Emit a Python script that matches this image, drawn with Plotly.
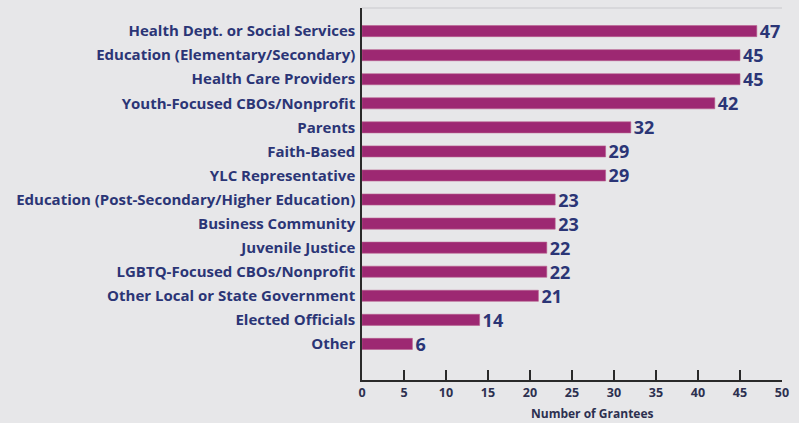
import plotly.graph_objects as go

categories = [
    "Health Dept. or Social Services",
    "Education (Elementary/Secondary)",
    "Health Care Providers",
    "Youth-Focused CBOs/Nonprofit",
    "Parents",
    "Faith-Based",
    "YLC Representative",
    "Education (Post-Secondary/Higher Education)",
    "Business Community",
    "Juvenile Justice",
    "LGBTQ-Focused CBOs/Nonprofit",
    "Other Local or State Government",
    "Elected Officials",
    "Other",
]
values = [47, 45, 45, 42, 32, 29, 29, 23, 23, 22, 22, 21, 14, 6]
x_ticks = [0, 5, 10, 15, 20, 25, 30, 35, 40, 45, 50]

BG = "#e7e7e9"
BAR = "#9d2872"
NAVY = "#2b3576"
FONT = "Open Sans"

fig = go.Figure()
fig.add_trace(go.Bar(
    x=values,
    y=categories,
    orientation="h",
    marker=dict(color=BAR, line=dict(color="#b8608f", width=0.6)),
    width=0.46,
    text=[str(v) for v in values],
    textposition="outside",
    constraintext="none",
    cliponaxis=False,
    textfont=dict(family=FONT, size=18, color=NAVY, weight="bold"),
    hoverinfo="skip",
))

fig.update_layout(
    width=799, height=423,
    margin=dict(l=362, r=17, t=8, b=43),
    paper_bgcolor=BG, plot_bgcolor=BG,
    showlegend=False,
    font=dict(family=FONT),
    xaxis=dict(
        range=[0, 50], tickvals=x_ticks, ticktext=[str(t) for t in x_ticks],
        showgrid=False, zeroline=False,
        showline=True, linecolor="#2a2a2a", linewidth=2,
        ticks="inside", ticklen=10, tickwidth=1.5, tickcolor="#2a2a2a",
        tickfont=dict(family=FONT, size=12.5, color="#2d3050", weight="bold"),
        fixedrange=True,
    ),
    yaxis=dict(
        type="category", categoryorder="array", categoryarray=categories,
        range=[14.5, -0.96],
        showgrid=False, zeroline=False,
        showline=True, linecolor="#2a2a2a", linewidth=1.5,
        ticks="", ticklabelstandoff=2,
        tickfont=dict(family=FONT, size=15, color=NAVY, weight="bold"),
        fixedrange=True,
    ),
    shapes=[dict(type="line", xref="paper", yref="paper", x0=0, x1=1, y0=1, y1=1,
                 line=dict(color="#d3d3d6", width=1.5))],
    annotations=[dict(text="Number of Grantees", xref="paper", yref="paper",
                      x=0.548, y=0, yshift=-33, yanchor="middle", showarrow=False,
                      font=dict(family=FONT, size=12, color="#2d3050", weight="bold"))],
)

fig.write_html("out.html")
